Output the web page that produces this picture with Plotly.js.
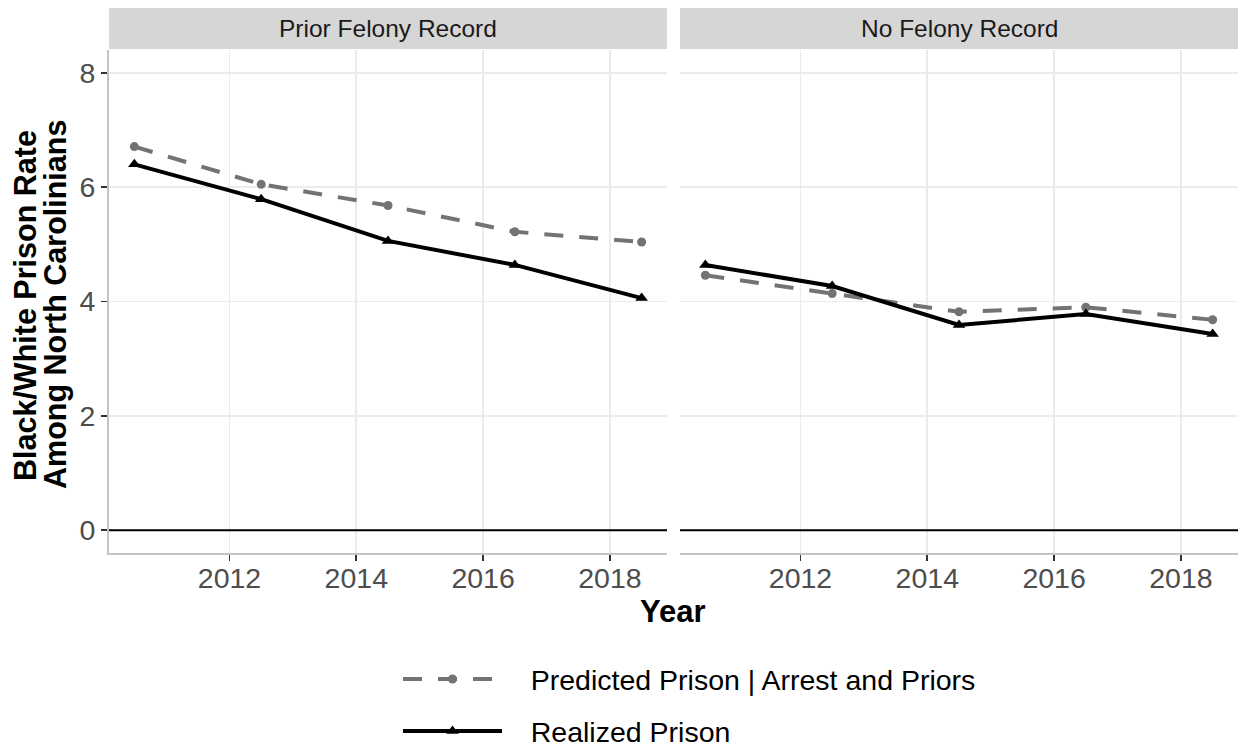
<!DOCTYPE html>
<html>
<head>
<meta charset="utf-8">
<script src="https://cdn.plot.ly/plotly-3.0.1.min.js"></script>
<style>
  html, body { margin: 0; padding: 0; background: #fff; }
  #chart { width: 1239px; height: 749px; }
</style>
</head>
<body>
<div id="chart"></div>
<script>
// Survey years (mid-points of two-year windows)
const years = [2010.5, 2012.5, 2014.5, 2016.5, 2018.5];

// Facet labels
const panels = ["Prior Felony Record", "No Felony Record"];

// Black/White prison rate ratios
const priorPredicted = [6.71, 6.05, 5.68, 5.22, 5.04];
const priorRealized  = [6.40, 5.79, 5.06, 4.64, 4.06];
const noPredicted    = [4.46, 4.14, 3.82, 3.90, 3.68];
const noRealized     = [4.64, 4.27, 3.59, 3.78, 3.43];

const seriesNames = ["Predicted Prison | Arrest and Priors", "Realized Prison"];

const yTicks = [0, 2, 4, 6, 8];
const xTicks = [2012, 2014, 2016, 2018];

const FONT = "Liberation Sans, Arial, Helvetica, sans-serif";
const GREY = "#737373";
const PAD = "\u00a0\u00a0\u00a0";   // gap between legend key and label

function predictedTrace(y, xa, ya, show) {
  return {
    x: years, y: y, xaxis: xa, yaxis: ya, type: "scatter", mode: "lines+markers",
    name: PAD + seriesNames[0], legendgroup: "pred", showlegend: show,
    line: { color: GREY, width: 4, dash: "19px,16px" },
    marker: { symbol: "circle", size: 9, color: GREY },
    hoverinfo: "x+y"
  };
}
function realizedTrace(y, xa, ya, show) {
  return {
    x: years, y: y, xaxis: xa, yaxis: ya, type: "scatter", mode: "lines+markers",
    name: PAD + seriesNames[1], legendgroup: "real", showlegend: show,
    line: { color: "#000000", width: 4 },
    marker: { symbol: "triangle-up", size: 11, color: "#000000" },
    hoverinfo: "x+y"
  };
}

const data = [
  predictedTrace(priorPredicted, "x", "y", true),
  realizedTrace(priorRealized, "x", "y", true),
  predictedTrace(noPredicted, "x2", "y2", false),
  realizedTrace(noRealized, "x2", "y2", false)
];

const W = 1239, H = 749;
const px = v => v / W;
const py = v => 1 - v / H;

const xRange = [2010.1, 2018.9];
const yRange = [-0.4, 8.4];

function xAxis(domain, anchor) {
  return {
    domain: domain, anchor: anchor, range: xRange,
    tickvals: xTicks, ticktext: xTicks.map(String),
    showgrid: true, gridcolor: "#ebebeb", gridwidth: 1.6,
    zeroline: false,
    showline: true, linecolor: "#c4c4c4", linewidth: 2,
    ticks: "outside", ticklen: 6, tickwidth: 1.6, tickcolor: "#333333",
    tickfont: { family: FONT, size: 28.5, color: "#4d4d4d" },
    ticklabelstandoff: -7,
    fixedrange: true
  };
}
function yAxis(domain, anchor, showLabels) {
  return {
    domain: domain, anchor: anchor, range: yRange,
    tickvals: yTicks, ticktext: yTicks.map(String),
    showticklabels: showLabels,
    showgrid: true, gridcolor: "#ebebeb", gridwidth: 1.6,
    zeroline: false,
    showline: showLabels, linecolor: "#c4c4c4", linewidth: 2,
    ticks: showLabels ? "outside" : "", ticklen: 6, tickwidth: 1.6, tickcolor: "#333333",
    tickfont: { family: FONT, size: 28.5, color: "#4d4d4d" },
    fixedrange: true
  };
}

const plotTop = 50, plotBottom = 553;
const yDom = [py(plotBottom), py(plotTop)];
const xDom1 = [px(109), px(667)];
const xDom2 = [px(680), px(1238)];

const shapes = [];
const annotations = [];

[[xDom1, "x", "y"], [xDom2, "x2", "y2"]].forEach(([dom, xa, ya], i) => {
  // facet strip
  shapes.push({
    type: "rect", xref: "paper", yref: "paper",
    x0: dom[0], x1: dom[1], y0: py(49), y1: py(8),
    fillcolor: "#d6d6d6", line: { width: 0 }, layer: "below"
  });
  annotations.push({
    xref: "paper", yref: "paper", x: (dom[0] + dom[1]) / 2, y: py(28.5),
    xanchor: "center", yanchor: "middle", showarrow: false,
    text: panels[i], font: { family: FONT, size: 24.5, color: "#1a1a1a" }
  });
  // reference line at zero
  shapes.push({
    type: "line", xref: xa + " domain", yref: ya,
    x0: 0, x1: 1, y0: 0, y1: 0,
    line: { color: "#000000", width: 2 }, layer: "above"
  });
});

// axis titles
annotations.push({
  xref: "paper", yref: "paper", x: px(673), y: py(611),
  xanchor: "center", yanchor: "middle", showarrow: false,
  text: "<b>Year</b>", font: { family: FONT, size: 31, color: "#000000" }
});
annotations.push({
  xref: "paper", yref: "paper", x: px(25), y: py(306),
  xanchor: "center", yanchor: "middle", showarrow: false, textangle: -90,
  text: "<b>Black/White Prison Rate</b>", font: { family: FONT, size: 30.5, color: "#000000" }
});
annotations.push({
  xref: "paper", yref: "paper", x: px(55), y: py(305),
  xanchor: "center", yanchor: "middle", showarrow: false, textangle: -90,
  text: "<b>Among North Carolinians</b>", font: { family: FONT, size: 30.5, color: "#000000" }
});

const layout = {
  width: W, height: H,
  margin: { l: 0, r: 0, t: 0, b: 0, pad: 0, autoexpand: false },
  paper_bgcolor: "#ffffff", plot_bgcolor: "#ffffff",
  font: { family: FONT, color: "#000000" },
  showlegend: true,
  legend: {
    orientation: "v", x: px(398), y: py(654), xanchor: "left", yanchor: "top",
    font: { family: FONT, size: 28.5, color: "#000000" },
    itemwidth: 99, tracegroupgap: 12, traceorder: "grouped",
    bgcolor: "rgba(0,0,0,0)", borderwidth: 0
  },
  xaxis: xAxis(xDom1, "y"),
  yaxis: yAxis(yDom, "x", true),
  xaxis2: xAxis(xDom2, "y2"),
  yaxis2: yAxis(yDom, "x2", false),
  shapes: shapes,
  annotations: annotations
};

Plotly.newPlot("chart", data, layout, { displayModeBar: false, staticPlot: true });
</script>
</body>
</html>
